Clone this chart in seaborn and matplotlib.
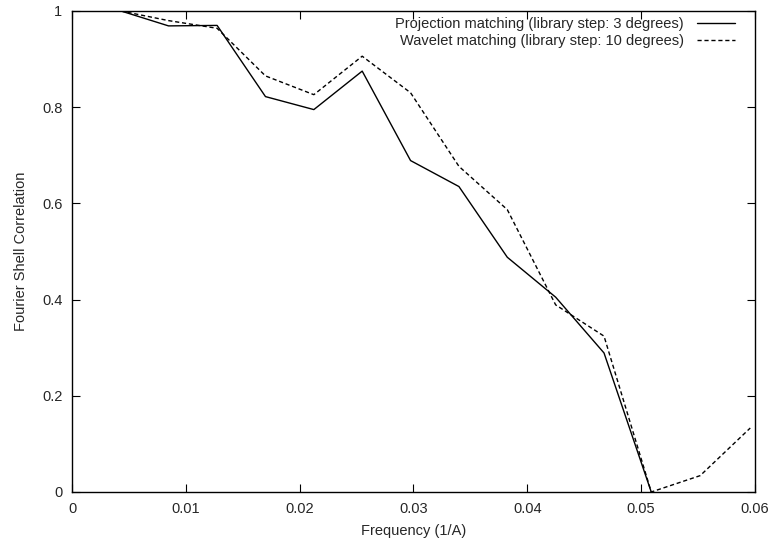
import pandas as pd
import seaborn as sns
import matplotlib
matplotlib.use('Agg')
import matplotlib.pyplot as plt
from matplotlib.ticker import FuncFormatter

# frequency samples (1/A)
freq = [0, 0.0043, 0.00848, 0.01275, 0.017, 0.02125, 0.0255, 0.02975,
        0.034, 0.03825, 0.0425, 0.04675, 0.0509, 0.0552, 0.0596]

# FSC curves
proj_fsc = [1.0, 1.0, 0.969, 0.970, 0.822, 0.795, 0.875, 0.689,
            0.635, 0.488, 0.405, 0.289, 0.0]
wave_fsc = [1.0, 1.0, 0.980, 0.964, 0.865, 0.826, 0.906, 0.830,
            0.677, 0.587, 0.389, 0.324, 0.0, 0.034, 0.133]

proj_label = 'Projection matching (library step: 3 degrees)'
wave_label = 'Wavelet matching (library step: 10 degrees)'

df_proj = pd.DataFrame({'freq': freq[:len(proj_fsc)], 'fsc': proj_fsc})
df_wave = pd.DataFrame({'freq': freq, 'fsc': wave_fsc})

sns.set_style('ticks')
plt.rcParams['font.family'] = ['Liberation Sans', 'DejaVu Sans']
fontsize = 10.5

fig = plt.figure(figsize=(7.71, 5.41), dpi=100)
ax = fig.add_axes([0.0934, 0.0906, 0.8856, 0.8891])

sns.lineplot(data=df_proj, x='freq', y='fsc', ax=ax, color='black',
             linewidth=1.0, label=proj_label)
sns.lineplot(data=df_wave, x='freq', y='fsc', ax=ax, color='black',
             linewidth=1.0, linestyle=(0, (3, 2)), label=wave_label)

ax.set_xlim(0, 0.06)
ax.set_ylim(0, 1)
ax.set_xticks([0, 0.01, 0.02, 0.03, 0.04, 0.05, 0.06])
ax.set_yticks([0, 0.2, 0.4, 0.6, 0.8, 1.0])
ax.xaxis.set_major_formatter(FuncFormatter(lambda v, p: '%g' % round(v, 4)))
ax.yaxis.set_major_formatter(FuncFormatter(lambda v, p: '%g' % round(v, 4)))
ax.tick_params(axis='both', which='both', direction='in', length=6,
               width=0.8, top=True, right=True, labelsize=fontsize,
               pad=7, color='black')
for s in ax.spines.values():
    s.set_visible(True)
    s.set_linewidth(1.0)
    s.set_color('black')

ax.set_xlabel('Frequency (1/A)', fontsize=fontsize, labelpad=6)
ax.set_ylabel('Fourier Shell Correlation', fontsize=fontsize, labelpad=10)

# gnuplot-style key: text right-aligned, line sample after it
leg = ax.legend(loc='upper right', bbox_to_anchor=(0.9707, 0.987),
                frameon=False, markerfirst=False, fontsize=fontsize,
                handlelength=2.6, handletextpad=0.9, borderpad=0,
                borderaxespad=0, labelspacing=0.2)
for t in leg.get_texts():
    t.set_ha('right')
leg._legend_box.align = 'right'

plt.savefig('out.png', dpi=100)
